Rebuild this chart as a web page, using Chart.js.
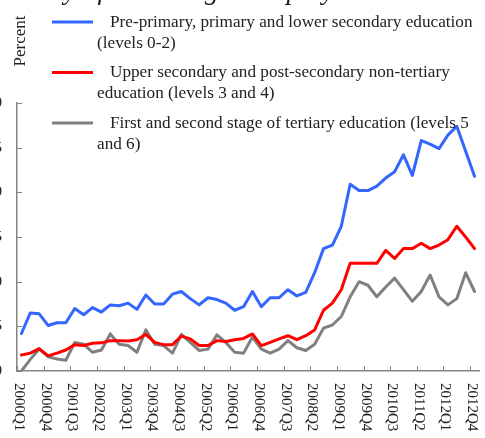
<!DOCTYPE html>
<html>
<head>
<meta charset="utf-8">
<script src="https://cdn.jsdelivr.net/npm/chart.js@4.4.0/dist/chart.umd.min.js"></script>
<style>
  html, body { margin: 0; padding: 0; background: #fff; overflow: hidden; }
  #wrap { position: absolute; left: -40px; top: 0; width: 525px; height: 438px; }
</style>
</head>
<body>
<div id="wrap"><canvas id="chart" width="525" height="438"></canvas></div>
<script>
// quarters 2000Q1 .. 2012Q4
const quarters = [];
for (let yr = 2000; yr <= 2012; yr++) {
    for (let q = 1; q <= 4; q++) quarters.push(yr + 'Q' + q);
}
// every third quarter gets a label
const tickLabels = quarters.filter((q, i) => i % 3 === 0);
const yTicks = [0, 5, 10, 15, 20, 25, 30];

const lowerEdu = [4.2, 6.5, 6.4, 5.1, 5.4, 5.4, 7.0, 6.3, 7.1, 6.6, 7.4, 7.3, 7.6, 6.9, 8.5, 7.5, 7.5, 8.6,
    8.9, 8.1, 7.4, 8.2, 8.0, 7.6, 6.8, 7.2, 8.9, 7.2, 8.2, 8.2, 9.1, 8.4, 8.8, 11.0, 13.7, 14.1,
    16.2, 20.9, 20.2, 20.2, 20.7, 21.6, 22.3, 24.2, 21.9, 25.8, 25.4, 24.9, 26.4, 27.4, 24.6, 21.8];
const upperEdu = [1.8, 2.0, 2.5, 1.7, 2.0, 2.35, 2.95, 2.85, 3.1, 3.15, 3.4, 3.4, 3.35, 3.5, 4.1, 3.2, 2.95, 2.95,
    3.9, 3.6, 2.85, 2.85, 3.4, 3.3, 3.5, 3.65, 4.15, 2.85, 3.2, 3.6, 3.95, 3.5, 3.95, 4.6, 6.8, 7.6,
    9.1, 12.05, 12.05, 12.05, 12.05, 13.5, 12.6, 13.7, 13.7, 14.3, 13.7, 14.1, 14.7, 16.2, 15.0, 13.7];
const tertiaryEdu = [0, 1.3, 2.45, 1.6, 1.35, 1.2, 3.2, 3.0, 2.1, 2.35, 4.15, 3.0, 2.85, 2.1, 4.6, 3.0, 2.85, 2.0,
    4.1, 3.2, 2.3, 2.45, 4.05, 3.2, 2.1, 2.0, 3.8, 2.45, 2.0, 2.45, 3.4, 2.6, 2.3, 3.0, 4.8, 5.15,
    6.1, 8.3, 10.0, 9.6, 8.3, 9.4, 10.4, 9.1, 7.8, 8.9, 10.75, 8.3, 7.4, 8.1, 11.0, 8.9];

const SERIF = '"Liberation Serif", "Times New Roman", serif';
const AXIS_GREY = '#858585';
const TEXT = '#222';

// draws the bits Chart.js can't: inward ticks, clockwise x labels, legend, axis title
const decor = {
    id: 'decor',
    afterDraw(chart) {
        const ctx = chart.ctx;
        const xs = chart.scales.x, ys = chart.scales.y;
        const area = chart.chartArea;
        const half = (xs.getPixelForValue(1) - xs.getPixelForValue(0)) / 2;
        ctx.save();

        // --- title, mostly above the frame ---
        ctx.fillStyle = TEXT;
        ctx.font = 'italic 28px ' + SERIF;
        ctx.textAlign = 'left';
        ctx.textBaseline = 'alphabetic';
        ctx.fillText('Intensity of the rising unemployment rate', 20, -1);

        // --- y ticks (inward) and their labels, which run off the left edge ---
        ctx.strokeStyle = AXIS_GREY;
        ctx.lineWidth = 1;
        ctx.font = '15px ' + SERIF;
        ctx.textAlign = 'right';
        ctx.textBaseline = 'middle';
        yTicks.forEach(v => {
            const py = Math.round(ys.getPixelForValue(v)) + 0.5;
            ctx.beginPath();
            ctx.moveTo(area.left, py);
            ctx.lineTo(area.left + 5, py);
            ctx.stroke();
            ctx.fillText(String(v), area.left - 15, py);
        });

        // --- x ticks and clockwise labels ---
        ctx.textAlign = 'left';
        quarters.forEach((q, i) => {
            if (!tickLabels.includes(q)) return;
            const px = Math.round(xs.getPixelForValue(i) - half) + 0.5;
            ctx.beginPath();
            ctx.moveTo(px, area.bottom);
            ctx.lineTo(px, area.bottom - 5);
            ctx.stroke();
            ctx.save();
            ctx.translate(px + 1, area.bottom + 12);
            ctx.rotate(Math.PI / 2);
            ctx.fillText(q, 0, 0);
            ctx.restore();
        });

        // --- y axis title ---
        ctx.save();
        ctx.font = '17px ' + SERIF;
        ctx.textAlign = 'center';
        ctx.translate(61, 41);
        ctx.rotate(-Math.PI / 2);
        ctx.fillText('Percent', 0, 0);
        ctx.restore();

        // --- legend ---
        ctx.font = '17.2px ' + SERIF;
        ctx.textAlign = 'left';
        chart.data.datasets.forEach((ds, k) => {
            const ly = 22 + k * 50.5;
            ctx.strokeStyle = ds.borderColor;
            ctx.lineWidth = 3;
            ctx.beginPath();
            ctx.moveTo(92, ly);
            ctx.lineTo(133, ly);
            ctx.stroke();
            ctx.fillStyle = TEXT;
            ctx.fillText(ds.label[0], 150, ly);
            ctx.fillText(ds.label[1], 137, ly + 21);
        });
        ctx.restore();
    }
};

new Chart(document.getElementById('chart'), {
    type: 'line',
    data: {
        labels: quarters,
        datasets: [
            { label: ['Pre-primary, primary and lower secondary education', '(levels 0-2)'],
              data: lowerEdu, borderColor: '#3366ff' },
            { label: ['Upper secondary and post-secondary non-tertiary', 'education (levels 3 and 4)'],
              data: upperEdu, borderColor: '#ff0000' },
            { label: ['First and second stage of tertiary education (levels 5', 'and 6)'],
              data: tertiaryEdu, borderColor: '#808080' }
        ]
    },
    options: {
        responsive: false,
        animation: false,
        devicePixelRatio: 1,
        layout: { padding: { top: 103, right: 6, left: 0, bottom: 0 } },
        elements: {
            point: { radius: 0 },
            line: { borderWidth: 3, tension: 0, borderJoinStyle: 'round', borderCapStyle: 'round' }
        },
        scales: {
            x: {
                type: 'category',
                offset: true,
                grid: { display: false },
                border: { color: AXIS_GREY, width: 1.5 },
                ticks: { display: false },
                afterFit: s => { s.height = 67; }
            },
            y: {
                min: 0, max: 30,
                grid: { display: false },
                border: { color: AXIS_GREY, width: 1.5 },
                ticks: { display: false, stepSize: 5 },
                afterFit: s => { s.width = 57; }
            }
        },
        plugins: { legend: { display: false }, tooltip: { enabled: false } }
    },
    plugins: [decor]
});
</script>
</body>
</html>
